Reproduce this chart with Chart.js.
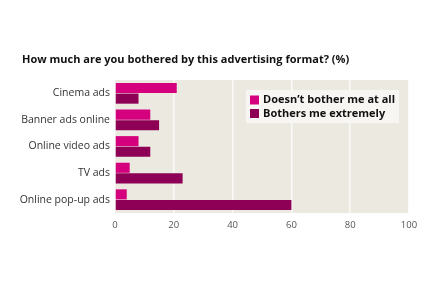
<!DOCTYPE html>
<html>
<head>
<meta charset="utf-8">
<script src="https://cdn.jsdelivr.net/npm/chart.js@4.4.0/dist/chart.umd.min.js"></script>
<style>
  html, body { margin: 0; padding: 0; background: #fff; }
  #wrap { width: 428px; height: 285px; }
</style>
</head>
<body>
<div id="wrap"><canvas id="adsChart" width="428" height="285"></canvas></div>
<script>
const categories = ['Cinema ads', 'Banner ads online', 'Online video ads', 'TV ads', 'Online pop-up ads'];
const notBothered = [21, 12, 8, 5, 4];
const bothered = [8, 15, 12, 23, 60];
const xTicks = [0, 20, 40, 60, 80, 100];
const chartTitle = 'How much are you bothered by this advertising format? (%)';

const FONT = "'Open Sans', 'DejaVu Sans', sans-serif";

// plot background
const plotBg = {
    id: 'plotBg',
    beforeDraw(chart) {
        const a = chart.chartArea, c = chart.ctx;
        c.save();
        c.fillStyle = '#ebe9e0';
        c.fillRect(a.left, a.top, a.right - a.left, a.bottom - a.top);
        c.restore();
    }
};

// title at the left, and the legend box inside the plot
const extras = {
    id: 'extras',
    afterDraw(chart) {
        const c = chart.ctx;
        c.save();
        c.fillStyle = '#111';
        c.font = "bold 11px " + FONT;
        c.textBaseline = 'middle';
        c.fillText(chartTitle, 22, 60);

        const x = 246, y = 90, w = 153, h = 33;
        c.fillStyle = '#f7f6f2';
        c.fillRect(x, y, w, h);
        c.font = "bold 11px " + FONT;
        chart.data.datasets.forEach((ds, i) => {
            const ry = y + 10 + i * 13.5;
            c.fillStyle = ds.backgroundColor;
            c.fillRect(x + 4, ry - 4.5, 9, 9);
            c.fillStyle = '#111';
            c.fillText(ds.label, x + 17, ry);
        });
        c.restore();
    }
};

const ctx = document.getElementById('adsChart').getContext('2d');
const adsChart = new Chart(ctx, {
    type: 'bar',
    data: {
        labels: categories,
        datasets: [{
            label: 'Doesn\u2019t bother me at all',
            data: notBothered,
            backgroundColor: '#d5007d'
        }, {
            label: 'Bothers me extremely',
            data: bothered,
            backgroundColor: '#8d0055'
        }]
    },
    options: {
        indexAxis: 'y',
        responsive: false,
        animation: false,
        layout: { padding: { left: 0, right: 19, top: 80, bottom: 47 } },
        datasets: { bar: { categoryPercentage: 0.8, barPercentage: 0.95 } },
        scales: {
            x: {
                min: 0,
                max: 100,
                z: 1,
                afterBuildTicks: (s) => { s.ticks = xTicks.map(v => ({ value: v })); },
                afterFit: (s) => { s.height = 25; },
                grid: { color: 'rgba(255,255,255,0.75)', lineWidth: 1.5, drawTicks: false },
                border: { display: false },
                ticks: { color: '#555', font: { family: FONT, size: 9.5 }, padding: 7 }
            },
            y: {
                afterFit: (s) => { s.width = 115; },
                grid: { display: false, drawTicks: false },
                border: { display: false },
                ticks: { color: '#333', font: { family: FONT, size: 10.5 }, padding: 5 }
            }
        },
        plugins: {
            legend: { display: false },
            tooltip: { enabled: false },
            title: { display: false }
        }
    },
    plugins: [plotBg, extras]
});
</script>
</body>
</html>
